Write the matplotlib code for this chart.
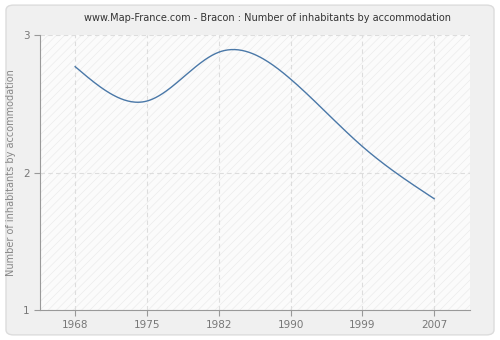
import numpy as np
import matplotlib
matplotlib.use("Agg")
import matplotlib.pyplot as plt
from matplotlib.patches import FancyBboxPatch, Rectangle

# data
years = ["1968", "1975", "1982", "1990", "1999", "2007"]
values = [2.77, 2.52, 2.875, 2.68, 2.19, 1.81]

title = "www.Map-France.com - Bracon : Number of inhabitants by accommodation"
ylabel = "Number of inhabitants by accommodation"


def natural_spline(x, y, n=300):
    x = np.asarray(x, float)
    y = np.asarray(y, float)
    k = len(x)
    h = np.diff(x)
    A = np.zeros((k, k))
    b = np.zeros(k)
    A[0, 0] = A[-1, -1] = 1
    for i in range(1, k - 1):
        A[i, i - 1] = h[i - 1]
        A[i, i] = 2 * (h[i - 1] + h[i])
        A[i, i + 1] = h[i]
        b[i] = 6 * ((y[i + 1] - y[i]) / h[i] - (y[i] - y[i - 1]) / h[i - 1])
    m = np.linalg.solve(A, b)
    xs = np.linspace(x[0], x[-1], n)
    ys = np.empty_like(xs)
    for j, t in enumerate(xs):
        i = min(np.searchsorted(x, t, side="right") - 1, k - 2)
        a = (x[i + 1] - t) / h[i]
        c = (t - x[i]) / h[i]
        ys[j] = (a * y[i] + c * y[i + 1]
                 + ((a ** 3 - a) * m[i] + (c ** 3 - c) * m[i + 1]) * h[i] ** 2 / 6)
    return xs, ys


plt.rcParams["hatch.linewidth"] = 0.5
fig = plt.figure(figsize=(5, 3.4), dpi=100)
fig.patch.set_facecolor("white")

# rounded grey panel behind everything
panel = FancyBboxPatch((0.012, 0.015), 0.976, 0.97,
                       boxstyle="round,pad=0,rounding_size=0.015",
                       transform=fig.transFigure, facecolor="#f0f0f0",
                       edgecolor="#dcdcdc", linewidth=1.0, zorder=-10)
fig.patches.append(panel)

ax = fig.add_axes([0.08, 0.088, 0.86, 0.809])
ax.set_facecolor("#fbfbfb")
ax.add_patch(Rectangle((0, 0), 1, 1, transform=ax.transAxes, facecolor="none",
                       edgecolor="#ececec", hatch="////", linewidth=0, zorder=0))

pos = np.arange(len(years))
xs, ys = natural_spline(pos, values)
ax.plot(xs, ys, color="#4a78a8", linewidth=1.0, zorder=3)

ax.set_xlim(-0.49, 5.5)
ax.set_ylim(1, 3)
ax.set_xticks(pos)
ax.set_xticklabels(years)
ax.set_yticks([1, 2, 3])

ax.grid(True, color="#dddddd", linestyle=(0, (4, 3)), linewidth=0.8, zorder=1)
ax.set_axisbelow(True)

for s in ["top", "right"]:
    ax.spines[s].set_visible(False)
for s in ["left", "bottom"]:
    ax.spines[s].set_color("#999999")
ax.tick_params(colors="#999999", labelcolor="#777777", labelsize=7.5, length=4, width=0.8)
ax.tick_params(axis="x", pad=3)

ax.set_ylabel(ylabel, fontsize=7, color="#888888", labelpad=5)
fig.text(0.534, 0.947, title, ha="center", va="center", fontsize=7, color="#333333")

fig.savefig("out.png", dpi=100)
